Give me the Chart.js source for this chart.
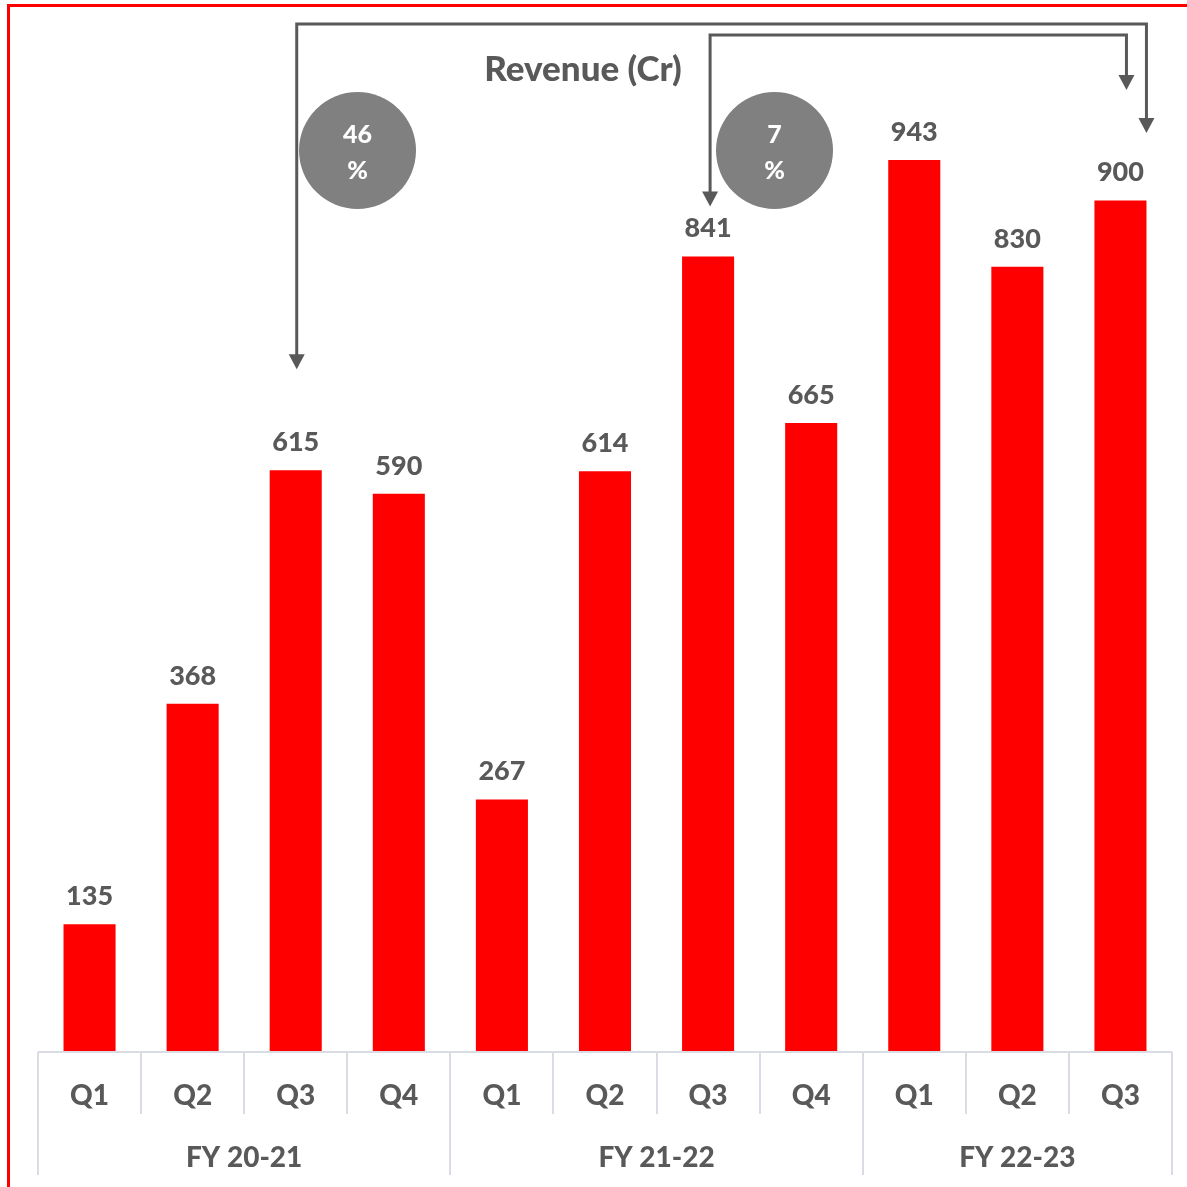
<!DOCTYPE html>
<html>
<head>
<meta charset="utf-8">
<script src="https://cdn.jsdelivr.net/npm/chart.js@4"></script>
<style>
html,body{margin:0;padding:0;background:#fff;}
canvas{display:block;}
</style>
</head>
<body>
<canvas id="c" width="1187" height="1187"></canvas>
<script>
const quarters = ["Q1","Q2","Q3","Q4","Q1","Q2","Q3","Q4","Q1","Q2","Q3"];
const groups = ["FY 20-21","FY 21-22","FY 22-23"];
const groupSizes = [4,4,3];
const revenue = [135,368,615,590,267,614,841,665,943,830,900];
const growthLabels = ["46","7"];
const title = "Revenue (Cr)";

const FONT = "Lato, 'Open Sans', sans-serif";
const W = "900";
const GREY = "#595959";

const overlay = {
  id: "overlay",
  afterDatasetsDraw(chart) {
    const ctx = chart.ctx;
    const x = chart.scales.x;
    const area = chart.chartArea;
    const meta = chart.getDatasetMeta(0);
    ctx.save();
    // value labels
    ctx.fillStyle = GREY;
    ctx.font = W + " 27px " + FONT;
    ctx.textAlign = "center";
    ctx.textBaseline = "middle";
    meta.data.forEach((bar, i) => {
      ctx.fillText(String(revenue[i]), bar.x, bar.y - 28);
    });
    // category table
    const step = (x.getPixelForValue(1) - x.getPixelForValue(0));
    const left = area.left, right = area.right, base = area.bottom;
    ctx.strokeStyle = "#d9dde3";
    ctx.lineWidth = 2;
    ctx.beginPath();
    ctx.moveTo(left, base); ctx.lineTo(right, base); ctx.stroke();
    let idx = 0;
    const bounds = [0];
    groupSizes.forEach(s => { idx += s; bounds.push(idx); });
    for (let i = 0; i <= quarters.length; i++) {
      const px = Math.round(left + i * step);
      const isGroup = bounds.includes(i);
      ctx.beginPath();
      ctx.moveTo(px, base);
      ctx.lineTo(px, isGroup ? base + 123 : base + 62);
      ctx.stroke();
    }
    ctx.fillStyle = GREY;
    ctx.font = W + " 28px " + FONT;
    quarters.forEach((q, i) => {
      ctx.fillText(q, x.getPixelForValue(i), base + 44);
    });
    groups.forEach((g, gi) => {
      const cx = left + (bounds[gi] + bounds[gi + 1]) / 2 * step;
      ctx.fillText(g, cx, base + 106);
    });
    // title
    ctx.font = W + " 35px " + FONT;
    ctx.fillText(title, 583, 70);
    // connectors
    ctx.strokeStyle = GREY;
    ctx.fillStyle = GREY;
    ctx.lineWidth = 3;
    const arrowHead = (tx, ty) => {
      ctx.beginPath();
      ctx.moveTo(tx - 8, ty - 15);
      ctx.lineTo(tx + 8, ty - 15);
      ctx.lineTo(tx, ty);
      ctx.closePath();
      ctx.fill();
    };
    const b2 = meta.data[2], b6 = meta.data[6], b10 = meta.data[10];
    // outer: Q3 FY20-21 -> Q3 FY22-23
    const ox1 = b2.x + 1, ox2 = b10.x + 26, oy = 24;
    ctx.beginPath();
    ctx.moveTo(ox1, b2.y - 104); ctx.lineTo(ox1, oy); ctx.lineTo(ox2, oy); ctx.lineTo(ox2, 120);
    ctx.stroke();
    arrowHead(ox1, b2.y - 101);
    arrowHead(ox2, 133);
    // inner: Q3 FY21-22 -> Q3 FY22-23
    const ix1 = b6.x + 2, ix2 = b10.x + 6, iy = 35;
    ctx.beginPath();
    ctx.moveTo(ix1, b6.y - 60); ctx.lineTo(ix1, iy); ctx.lineTo(ix2, iy); ctx.lineTo(ix2, 78);
    ctx.stroke();
    arrowHead(ix1, b6.y - 50);
    arrowHead(ix2, 90);
    // circles
    const circles = [[357.5, growthLabels[0]], [774.5, growthLabels[1]]];
    circles.forEach(([cx, t]) => {
      ctx.beginPath();
      ctx.arc(cx, 150.5, 58.5, 0, Math.PI * 2);
      ctx.fillStyle = "#808080";
      ctx.fill();
      ctx.fillStyle = "#ffffff";
      ctx.font = W + " 25px " + FONT;
      ctx.fillText(t, cx, 135);
      ctx.fillText("%", cx, 171);
    });
    // red frame
    ctx.strokeStyle = "#ff0000";
    ctx.lineWidth = 3;
    ctx.beginPath();
    ctx.moveTo(8.5, 1187); ctx.lineTo(8.5, 5.5); ctx.lineTo(1187, 5.5);
    ctx.stroke();
    ctx.restore();
  }
};

new Chart(document.getElementById("c"), {
  type: "bar",
  data: {
    labels: quarters.map((q, i) => q + " " + i),
    datasets: [{
      data: revenue,
      backgroundColor: "#ff0000",
      borderWidth: 0,
      barPercentage: 0.505,
      categoryPercentage: 1.0
    }]
  },
  options: {
    responsive: false,
    animation: false,
    devicePixelRatio: 1,
    layout: { padding: { left: 38, right: 15, top: 106, bottom: 135 } },
    plugins: { legend: { display: false }, tooltip: { enabled: false }, title: { display: false } },
    scales: {
      x: { display: false, offset: true, grid: { display: false } },
      y: { display: false, min: 0, max: 1000 }
    }
  },
  plugins: [overlay]
});
</script>
</body>
</html>
